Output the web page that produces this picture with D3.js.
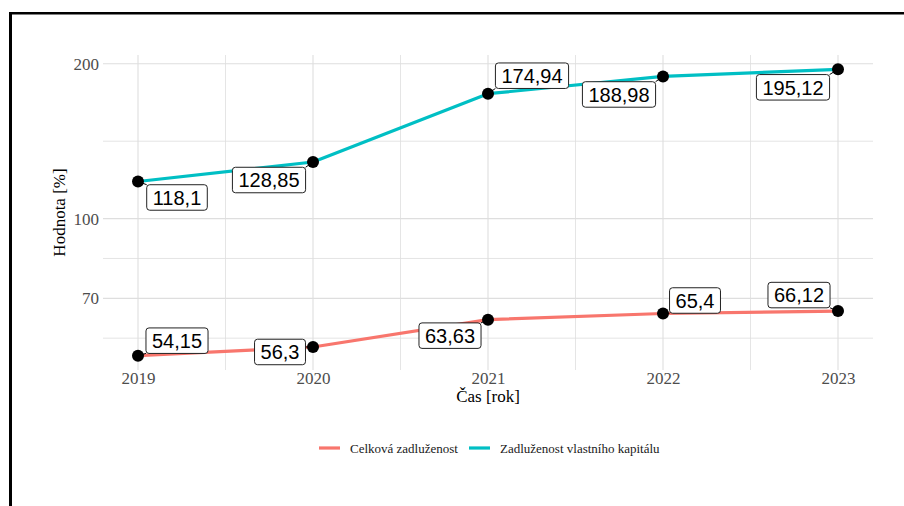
<!DOCTYPE html>
<html>
<head>
<meta charset="utf-8">
<script src="https://cdn.jsdelivr.net/npm/d3@7"></script>
<style>
  html, body { margin: 0; padding: 0; background: #fff; }
  svg { display: block; }
</style>
</head>
<body>
<script>
// ---- data ----
const years = [2019, 2020, 2021, 2022, 2023];
const celkova = [54.15, 56.3, 63.63, 65.4, 66.12];
const vlastni = [118.1, 128.85, 174.94, 188.98, 195.12];
const seriesNames = ["Celková zadluženost", "Zadluženost vlastního kapitálu"];
const yTicks = [70, 100, 200];
const xTicks = [2019, 2020, 2021, 2022, 2023];

// label placement (repel-like nudges, in pixels)
const nudgeCelkova = [[39, -15], [-33, 5], [-38, 16], [32, -13], [-39, -16]];
const nudgeVlastni = [[39, 16], [-44, 18], [44, -18], [-44, 18], [-45, 18]];

const W = 904, H = 506;
const colors = ["#F8766D", "#00BFC4"];
const panel = { left: 103, right: 873, top: 55, bottom: 370 };

const svg = d3.select("body").append("svg").attr("width", W).attr("height", H);

// frame (partial black border)
svg.append("rect").attr("x", 9).attr("y", 12).attr("width", W).attr("height", 2.5).attr("fill", "#000");
svg.append("rect").attr("x", 9).attr("y", 12).attr("width", 3).attr("height", H).attr("fill", "#000");

// scales
const x = d3.scaleLinear().domain([2019 - 0.2, 2023 + 0.2]).range([panel.left, panel.right]);
const all = celkova.concat(vlastni);
const lmin = Math.log10(d3.min(all)), lmax = Math.log10(d3.max(all));
const pad = (lmax - lmin) * 0.05;
const y = d3.scaleLog().domain([Math.pow(10, lmin - pad), Math.pow(10, lmax + pad)]).range([panel.bottom, panel.top]);

// grid
const g = svg.append("g");
const gridColor = "#DEDEDE";
const xMinor = d3.range(2019.5, 2023, 1);
g.selectAll(".xminor").data(xMinor).enter().append("line")
  .attr("x1", d => x(d)).attr("x2", d => x(d))
  .attr("y1", panel.top).attr("y2", panel.bottom)
  .attr("stroke", gridColor).attr("stroke-width", 0.8);
const lt = yTicks.map(v => Math.log10(v));
const bd = lt[1] - lt[0];
const yMinorLog = [lt[0] - bd / 2, (lt[0] + lt[1]) / 2, (lt[1] + lt[2]) / 2, lt[2] + bd / 2];
const yMinor = yMinorLog.map(v => Math.pow(10, v)).filter(v => v > y.domain()[0] && v < y.domain()[1]);
g.selectAll(".yminor").data(yMinor).enter().append("line")
  .attr("x1", panel.left).attr("x2", panel.right)
  .attr("y1", d => y(d)).attr("y2", d => y(d))
  .attr("stroke", gridColor).attr("stroke-width", 0.8);
g.selectAll(".xmajor").data(xTicks).enter().append("line")
  .attr("x1", d => x(d)).attr("x2", d => x(d))
  .attr("y1", panel.top).attr("y2", panel.bottom)
  .attr("stroke", gridColor).attr("stroke-width", 1.1);
g.selectAll(".ymajor").data(yTicks).enter().append("line")
  .attr("x1", panel.left).attr("x2", panel.right)
  .attr("y1", d => y(d)).attr("y2", d => y(d))
  .attr("stroke", gridColor).attr("stroke-width", 1.1);

// axes (text only, via d3 axes)
const xAxis = svg.append("g").attr("transform", `translate(0,${panel.bottom})`)
  .call(d3.axisBottom(x).tickValues(xTicks).tickFormat(d3.format("d")).tickSize(0).tickPadding(2));
const yAxis = svg.append("g").attr("transform", `translate(${panel.left},0)`)
  .call(d3.axisLeft(y).tickValues(yTicks).tickFormat(d3.format("d")).tickSize(0).tickPadding(4));
[xAxis, yAxis].forEach(a => {
  a.select(".domain").remove();
  a.selectAll("text").attr("font-family", "Liberation Serif, serif").attr("font-size", 17).attr("fill", "#4D4D4D");
});

// axis titles
svg.append("text").attr("x", (panel.left + panel.right) / 2).attr("y", 402)
  .attr("text-anchor", "middle").attr("font-family", "Liberation Serif, serif").attr("font-size", 17)
  .attr("fill", "#000").text("Čas [rok]");
svg.append("text").attr("transform", `translate(65,${(panel.top + panel.bottom) / 2}) rotate(-90)`)
  .attr("text-anchor", "middle").attr("font-family", "Liberation Serif, serif").attr("font-size", 17)
  .attr("fill", "#000").text("Hodnota [%]");

// lines
const series = [celkova, vlastni];
const nudges = [nudgeCelkova, nudgeVlastni];
const line = d3.line().x((d, i) => x(years[i])).y(d => y(d));
series.forEach((s, k) => {
  svg.append("path").datum(s).attr("d", line).attr("fill", "none")
    .attr("stroke", colors[k]).attr("stroke-width", 3.2).attr("stroke-linejoin", "round");
});

// labels
const fmt = v => String(v).replace(".", ",");
const labelFont = "Liberation Sans, Arial, sans-serif";
const segLayer = svg.append("g");
const pointLayer = svg.append("g");
const boxLayer = svg.append("g");

series.forEach((s, k) => {
  s.forEach((v, i) => {
    const px = x(years[i]), py = y(v);
    const cx = px + nudges[k][i][0], cy = py + nudges[k][i][1];
    const t = boxLayer.append("text").attr("x", cx).attr("y", cy).attr("dy", "0.36em")
      .attr("text-anchor", "middle").attr("font-family", labelFont).attr("font-size", 20)
      .attr("fill", "#000").text(fmt(v));
    const bb = t.node().getBBox();
    const bw = bb.width + 12, bh = 25.5;
    const bx = cx - bw / 2, by = cy - bh / 2;
    boxLayer.insert("rect", "text").attr("x", bx).attr("y", by).attr("width", bw).attr("height", bh)
      .attr("rx", 3).attr("ry", 3).attr("fill", "#fff").attr("stroke", "#222").attr("stroke-width", 1);
    const nx = Math.max(bx, Math.min(px, bx + bw));
    const ny = Math.max(by, Math.min(py, by + bh));
    segLayer.append("line").attr("x1", px).attr("y1", py).attr("x2", nx).attr("y2", ny)
      .attr("stroke", "#000").attr("stroke-width", 1);
    pointLayer.append("circle").attr("cx", px).attr("cy", py).attr("r", 6).attr("fill", "#000");
  });
});

// legend
const legY = 448;
const leg = svg.append("g");
const legItems = [
  { x0: 319, name: seriesNames[0], c: colors[0] },
  { x0: 469, name: seriesNames[1], c: colors[1] }
];
legItems.forEach(it => {
  leg.append("line").attr("x1", it.x0).attr("x2", it.x0 + 21).attr("y1", legY).attr("y2", legY)
    .attr("stroke", it.c).attr("stroke-width", 3.2);
  leg.append("text").attr("x", it.x0 + 31).attr("y", legY).attr("dy", "0.35em")
    .attr("font-family", "Liberation Serif, serif").attr("font-size", 13).attr("fill", "#1a1a1a").text(it.name);
});
</script>
</body>
</html>
